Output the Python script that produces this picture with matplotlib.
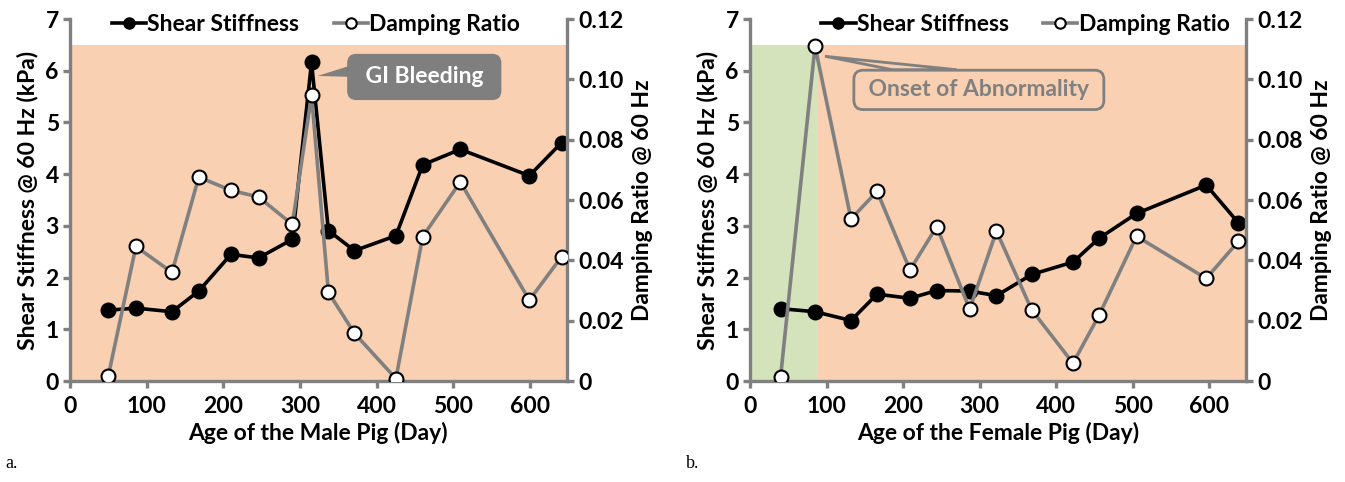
#!/usr/bin/env python3

import matplotlib
matplotlib.use("Agg")
import matplotlib.pyplot as plt
from matplotlib.patches import Polygon
from matplotlib.ticker import FuncFormatter

plt.rcParams['font.family'] = ['Lato', 'DejaVu Sans']
plt.rcParams['font.weight'] = 'bold'

# male pig (panel a)
male_days_shear = [50, 86, 133, 168, 210, 246, 290, 315, 337, 371, 425, 460, 509, 599, 641]
male_shear = [1.37, 1.41, 1.34, 1.74, 2.45, 2.38, 2.74, 6.16, 2.91, 2.52, 2.81, 4.18, 4.48, 3.97, 4.61]
male_damping = [0.0017, 0.0446, 0.0360, 0.0676, 0.0632, 0.0610, 0.0519, 0.0948,
                0.0294, 0.0158, 0.0008, 0.0479, 0.0660, 0.0268, 0.0412]

# female pig (panel b)
female_days = [40, 85, 132, 166, 209, 244, 287, 322, 368, 422, 456, 505, 596, 638]
female_shear = [1.40, 1.34, 1.17, 1.68, 1.60, 1.75, 1.74, 1.65, 2.06, 2.30, 2.76, 3.24, 3.79, 3.06]
female_damping = [0.0014, 0.1110, 0.0537, 0.0629, 0.0368, 0.0512, 0.0238, 0.0497,
                  0.0236, 0.0059, 0.0218, 0.0480, 0.0340, 0.0463]

x_ticks = [0, 100, 200, 300, 400, 500, 600]
y_ticks = [0, 1, 2, 3, 4, 5, 6, 7]
d_ticks = [0, 0.02, 0.04, 0.06, 0.08, 0.10, 0.12]

GREY = '#808080'
PEACH = '#F9D0B1'
GREEN = '#D5E3BC'
FS = 16.5


def fmt_d(v, pos):
    return '0' if abs(v) < 1e-9 else '%.2f' % v


def panel(ax, days, shear, damping, xlabel, legend_x):
    ax.set_xlim(0, 648)
    ax.set_ylim(0, 7)
    ax.set_xticks(x_ticks)
    ax.set_yticks(y_ticks)
    for s in ['top', 'right']:
        ax.spines[s].set_visible(False)
    for s in ['left', 'bottom']:
        ax.spines[s].set_color(GREY)
        ax.spines[s].set_linewidth(2.4)
    ax.tick_params(colors=GREY, width=2.4, length=5, pad=3, labelsize=FS, labelcolor='black')
    ax.tick_params(axis='x', pad=6)
    ax.set_xlabel(xlabel, fontsize=FS, fontweight='bold', labelpad=3)
    ax.set_ylabel('Shear Stiffness @ 60 Hz (kPa)', fontsize=FS, fontweight='bold', labelpad=5)
    ax.fill_between([0, 648], 0, 6.5, color=PEACH, lw=0, zorder=0)

    l1, = ax.plot(days, shear, '-o', color='black', lw=2.6, ms=10,
                  mfc='black', mec='black', mew=1.5, zorder=3, label='Shear Stiffness')

    ax2 = ax.twinx()
    ax2.set_ylim(0, 0.12)
    ax2.set_yticks(d_ticks)
    ax2.yaxis.set_major_formatter(FuncFormatter(fmt_d))
    for s in ['top', 'left', 'bottom']:
        ax2.spines[s].set_visible(False)
    ax2.spines['right'].set_color(GREY)
    ax2.spines['right'].set_linewidth(2.4)
    ax2.tick_params(colors=GREY, width=2.4, length=5, pad=3, labelsize=FS, labelcolor='black')
    ax2.set_ylabel('Damping Ratio @ 60 Hz', fontsize=FS, fontweight='bold', labelpad=6)
    l2, = ax2.plot(days, damping, '-o', color=GREY, lw=2.6, ms=10,
                   mfc='white', mec='black', mew=1.5, zorder=3, label='Damping Ratio')

    leg = ax.legend(handles=[l1, l2], loc='upper center', bbox_to_anchor=(legend_x, 1.04),
                    ncol=2, frameon=False, fontsize=FS, handlelength=1.5,
                    handletextpad=0.05, columnspacing=1.5, markerscale=0.75,
                    borderaxespad=0)
    leg.set_zorder(10)
    return ax2


fig = plt.figure(figsize=(13.45, 4.82), dpi=100)
ax_a = fig.add_axes([0.052, 0.2095, 0.3695, 0.751])
ax_b = fig.add_axes([0.5576, 0.2095, 0.3688, 0.751])

panel(ax_a, male_days_shear, male_shear, male_damping, 'Age of the Male Pig (Day)', 0.495)
panel(ax_b, female_days, female_shear, female_damping, 'Age of the Female Pig (Day)', 0.555)

# green region for the female pig
ax_b.fill_between([0, 89], 0, 6.5, color=GREEN, lw=0, zorder=0.5)

# GI bleeding callout
ax_a.add_patch(Polygon([[323, 5.9], [370, 6.12], [370, 5.88]], closed=True,
                       fc='#7F7F7F', ec='none', zorder=6))
ax_a.text(462, 5.88, ' GI Bleeding ', ha='center', va='center', fontsize=FS,
          fontweight='bold', color='white', zorder=7,
          bbox=dict(boxstyle='round,pad=0.55,rounding_size=0.4', fc='#7F7F7F', ec='none'))

# onset of abnormality callout
ax_b.add_patch(Polygon([[98, 6.28], [186, 6.02], [270, 6.02]], closed=True,
                       fc=PEACH, ec=GREY, lw=2, zorder=6))
ax_b.text(299, 5.63, ' Onset of Abnormality ', ha='center', va='center', fontsize=FS,
          fontweight='bold', color=GREY, zorder=7,
          bbox=dict(boxstyle='round,pad=0.4,rounding_size=0.4', fc=PEACH, ec=GREY, lw=2))

fig.text(0.004, 0.03, 'a.', fontsize=13, fontweight='normal', family='Liberation Serif')
fig.text(0.510, 0.03, 'b.', fontsize=13, fontweight='normal', family='Liberation Serif')

fig.savefig('out.png', dpi=100)
